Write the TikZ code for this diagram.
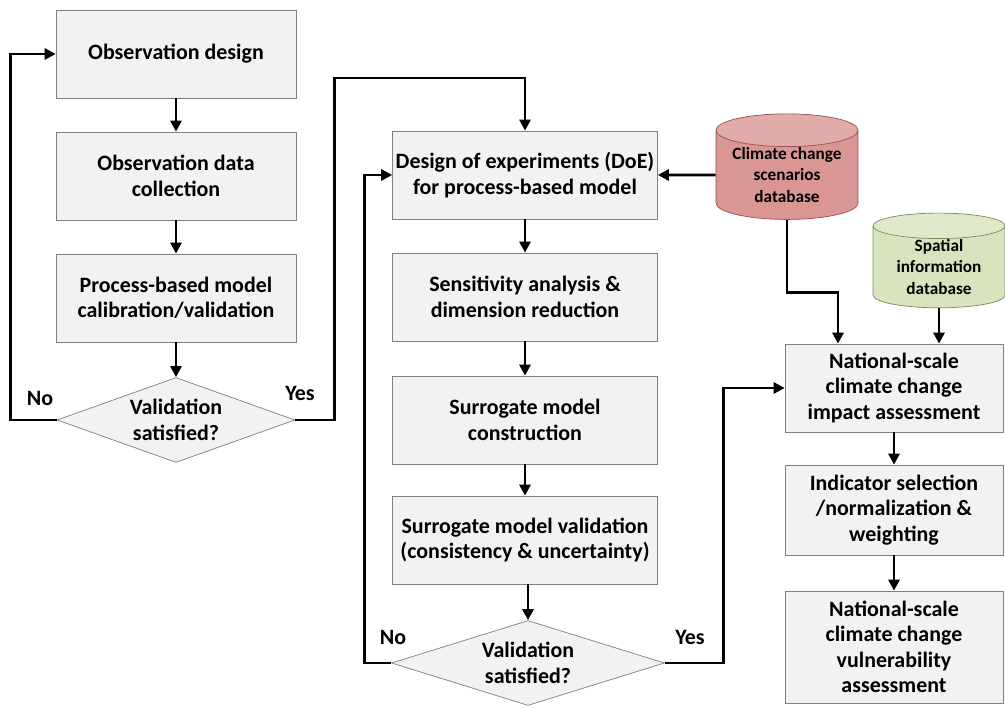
\documentclass[tikz,border=0pt]{standalone}
\usepackage{fontspec}
\setmainfont{Carlito}
\usetikzlibrary{shapes.geometric,arrows.meta}
\definecolor{boxfill}{RGB}{242,242,242}
\definecolor{boxline}{RGB}{128,128,128}
\definecolor{redfill}{RGB}{218,150,148}
\definecolor{redline}{RGB}{150,80,78}
\definecolor{greenfill}{RGB}{215,228,189}
\definecolor{greenline}{RGB}{120,140,90}
\begin{document}
\begin{tikzpicture}[x=0.02cm,y=-0.02cm,
	font=\fontsize{12.5}{14.5}\selectfont\bfseries,
	etape/.style={draw=boxline,fill=boxfill,minimum width=4.8cm,minimum height=1.76cm,align=center,inner sep=0pt},
	etapeb/.style={etape,minimum width=5.3cm},
	etapec/.style={etape,minimum width=4.36cm},
	test/.style={diamond,draw=boxline,fill=boxfill,minimum width=4.76cm,minimum height=1.7cm,aspect=2.8,align=center,inner sep=0pt},
	base/.style={cylinder,shape border rotate=90,draw,aspect=0.3,align=center,inner sep=0pt,
		font=\fontsize{9.8}{12.5}\selectfont\bfseries},
	fl/.style={line width=1.6pt,-{Triangle[length=2.2mm,width=2.2mm]}}]
	\useasboundingbox (0,0) rectangle (1005,709);
	%colonne 1
	\node[etape] (od) at (176,54) {Observation design};
	\node[etape] (odc) at (176,176) {Observation data\\collection};
	\node[etape] (pbm) at (176,298) {Process-based model\\calibration/validation};
	\node[test] (v1) at (176,420) {Validation\\satisfied?};
	%colonne 2
	\node[etapeb] (doe) at (525,175) {Design of experiments (DoE)\\for process-based model};
	\node[etapeb] (sa) at (525,297) {Sensitivity analysis \&\\dimension reduction};
	\node[etapeb] (smc) at (525,420) {Surrogate model\\construction};
	\node[etapeb] (smv) at (525,540) {Surrogate model validation\\(consistency \& uncertainty)};
	\node[test,minimum width=5.46cm,aspect=3.2] (v2) at (528,663) {Validation\\satisfied?};
	%colonne 3
	\node[etapec] (imp) at (894,388) {National-scale\\climate change\\impact assessment};
	\node[etapec,minimum height=1.8cm] (ind) at (894,510) {Indicator selection\\/normalization \&\\weighting};
	\node[etapec,minimum height=2.24cm] (vul) at (894,647) {National-scale\\climate change\\vulnerability\\assessment};
	%bases
	\node[base,draw=redline,cylinder uses custom fill,cylinder body fill=redfill,cylinder end fill=redfill!80,
		minimum width=2.84cm,minimum height=2.06cm] (cc) at (787,175) {Climate change\\scenarios\\database};
	\node[base,draw=greenline,cylinder uses custom fill,cylinder body fill=greenfill,cylinder end fill=greenfill!80,
		minimum width=2.64cm,minimum height=1.8cm] (si) at (939,267) {Spatial\\information\\database};
	%fleches
	\draw[fl] (od) -- (odc);
	\draw[fl] (odc) -- (pbm);
	\draw[fl] (pbm) -- (v1);
	\draw[fl] (v1.west) -- ++(-46,0) |- (od.west);
	\draw[fl] (v1.east) -- ++(39,0) -- ++(0,-342) -| (doe.north);
	\draw[fl] (cc.west) -- (doe.east);
	\draw[fl] (doe) -- (sa);
	\draw[fl] (sa) -- (smc);
	\draw[fl] (smc) -- (smv);
	\draw[fl] (smv.south -| v2.north) -- (v2.north);
	\draw[fl] (v2.west) -- ++(-27,0) |- (doe.west);
	\draw[fl] (v2.east) -- ++(59,0) |- (imp.west);
	\draw[fl] (cc.south) -- ++(0,73) -| ([xshift=-1.12cm]imp.north);
	\draw[fl] (si.south) -- (si.south |- imp.north);
	\draw[fl] (imp) -- (ind);
	\draw[fl] (ind) -- (vul);
	%oui / non
	\node (n1) at (40,398) {No};
	\node (y1) at (300,393) {Yes};
	\node (n2) at (393,637) {No};
	\node (y2) at (690,637) {Yes};
\end{tikzpicture}
\end{document}
